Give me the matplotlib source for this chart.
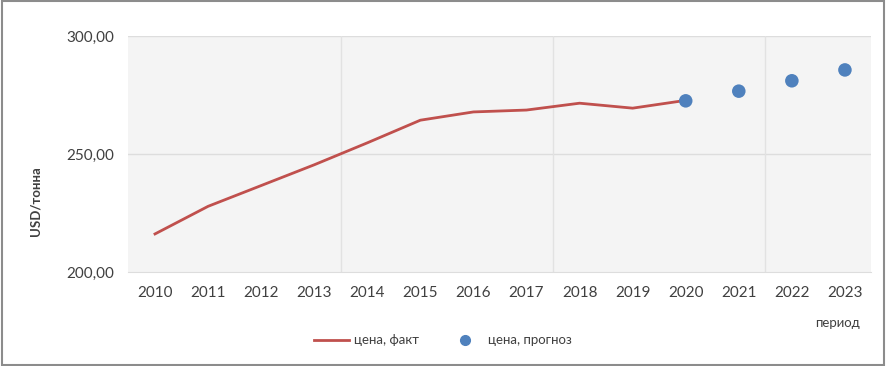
import matplotlib.pyplot as plt
from matplotlib.patches import Rectangle
from matplotlib.lines import Line2D

plt.rcParams['font.family'] = ['Lato', 'DejaVu Sans']

years = [str(y) for y in range(2010, 2024)]
fact_years = years[:11]
fact = [216.1, 227.8, 236.6, 245.4, 254.7, 264.3, 267.8, 268.6, 271.5, 269.4, 272.7]
forecast_years = ['2020', '2021', '2022', '2023']
forecast = [272.5, 276.6, 281.0, 285.6]

line_color = '#c0504d'
dot_color = '#4f81bd'
text_color = '#404040'

fig = plt.figure(figsize=(8.86, 3.66), dpi=100)
fig.patches.append(Rectangle((0.002, 0.004), 0.996, 0.992, transform=fig.transFigure,
                             fill=False, edgecolor='#8c8c8c', linewidth=1.5))

ax = fig.add_axes([0.145, 0.257, 0.8386, 0.6448])
ax.set_facecolor('#f4f4f4')

x_all = list(range(len(years)))
xf = [years.index(y) for y in fact_years]
xp = [years.index(y) for y in forecast_years]

ax.plot(xf, fact, color=line_color, linewidth=2, zorder=3)
ax.scatter(xp, forecast, s=95, color=dot_color, zorder=4, edgecolors='none')

ax.set_xlim(-0.5, len(years) - 0.5)
ax.set_ylim(200, 300)
ax.set_yticks([200, 250, 300])
ax.set_yticklabels(['200,00', '250,00', '300,00'])
ax.set_xticks(x_all)
ax.set_xticklabels(years)

# light grid: horizontal at 250/300, vertical every 4 categories
for yv in [250, 300]:
    ax.axhline(yv, color='#dddddd', linewidth=1, zorder=1)
for xv in [3.5, 7.5, 11.5]:
    ax.axvline(xv, color='#e2e2e2', linewidth=1, zorder=1)

for s in ['top', 'right', 'left']:
    ax.spines[s].set_visible(False)
ax.spines['bottom'].set_color('#dddddd')
ax.tick_params(axis='both', length=0, labelsize=11, colors=text_color)
ax.tick_params(axis='x', pad=10)
ax.tick_params(axis='y', pad=10)

fig.text(0.04, 0.45, 'USD/тонна', rotation=90, ha='center', va='center',
         fontsize=9.5, fontweight='bold', color=text_color)
fig.text(0.97, 0.118, 'период', ha='right', va='center', fontsize=9.5, color=text_color)

handles = [Line2D([], [], color=line_color, linewidth=2),
           Line2D([], [], color=dot_color, marker='o', linestyle='none', markersize=7)]
fig.legend(handles, ['цена, факт', 'цена, прогноз'], loc='center',
           bbox_to_anchor=(0.5, 0.07), ncol=2, frameon=False, fontsize=9.5,
           handlelength=2.6, handletextpad=0.4, columnspacing=2.2, labelcolor=text_color)

fig.savefig('out.png', dpi=100)
